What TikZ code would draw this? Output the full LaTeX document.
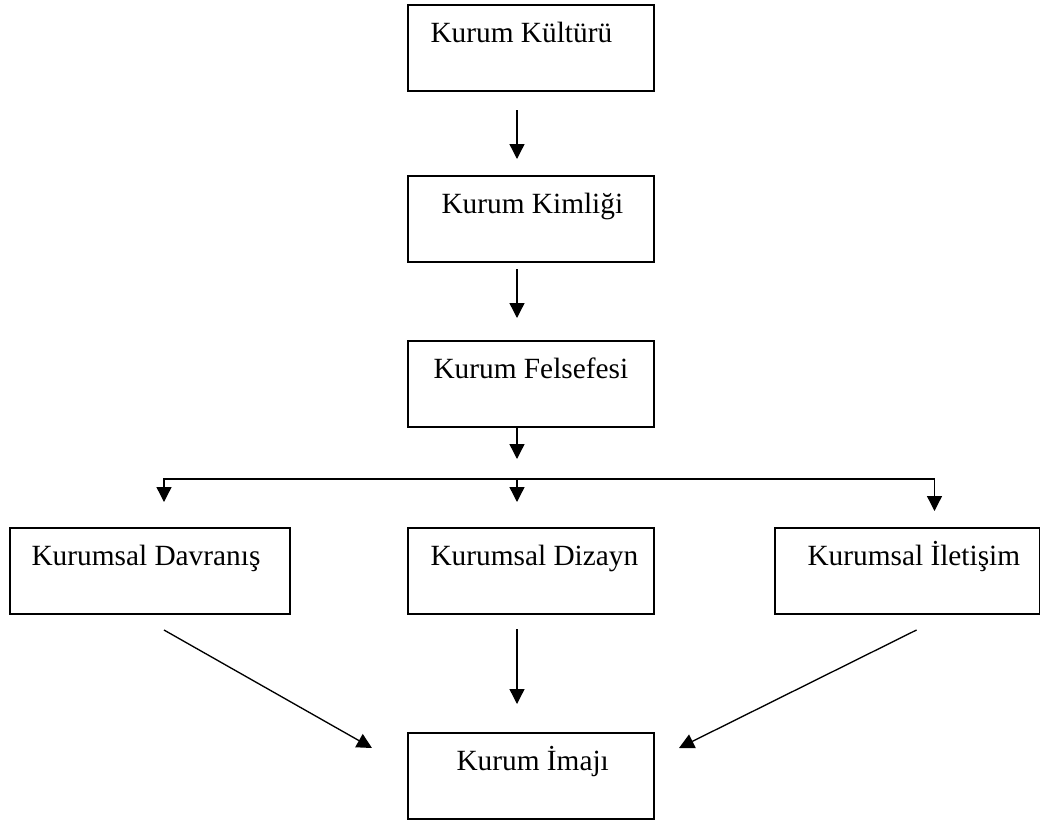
\documentclass[tikz,border=0pt]{standalone}
\usepackage{fontspec}
\setmainfont{Liberation Serif}
\usetikzlibrary{arrows.meta}

\tikzset{every picture/.style={line width=0.75pt}}
\tikzset{
  kutu/.style={draw, line width=1.5pt, inner sep=0pt, anchor=north west, minimum height=64.5pt},
  orta/.style={kutu, minimum width=184.5pt},
  yazi/.style={anchor=base west, inner sep=0pt, font=\fontsize{22}{26}\selectfont},
  ok/.style={-{Triangle[length=11.25pt,width=11.25pt]}, line width=1pt},
}

\begin{document}
\begin{tikzpicture}[x=0.75pt,y=0.75pt,yscale=-1,xscale=1]
\useasboundingbox (0,0) rectangle (1040,822);

%Shape: Rectangle
\node[orta] (kultur) at (407,4) {};
%Shape: Rectangle
\node[orta] (kimlik) at (407,175) {};
%Shape: Rectangle
\node[orta] (felsefe) at (407,340) {};
%Shape: Rectangle
\node[kutu, minimum width=210pt] (davranis) at (9,527) {};
%Shape: Rectangle
\node[orta] (dizayn) at (407,527) {};
%Shape: Rectangle
\node[kutu, minimum width=198.75pt] (iletisim) at (774,527) {};
%Shape: Rectangle
\node[orta] (imaj) at (407,732) {};

%Straight Lines
\draw[ok] ([xshift=-10.5pt,yshift=13.5pt]kultur.south) -- ([xshift=-10.5pt,yshift=-12pt]kimlik.north);
%Straight Lines
\draw[ok] ([xshift=-10.5pt,yshift=4.5pt]kimlik.south) -- ([xshift=-10.5pt,yshift=-16.5pt]felsefe.north);
%Straight Lines
\draw[ok] ([xshift=-10.5pt]felsefe.south) -- ([xshift=-10.5pt,yshift=23.25pt]felsefe.south);

%Branch
\coordinate (dal) at ([xshift=-10.5pt,yshift=38.25pt]felsefe.south);
\draw[ok] (dal) -| ([xshift=10.5pt,yshift=-18.75pt]davranis.north);
\draw[ok] (dal) -| ([xshift=20.25pt,yshift=-12pt]iletisim.north);
\draw[ok] (dal) -- ([xshift=-10.5pt,yshift=-18.75pt]dizayn.north);

%Straight Lines
\draw[ok] ([xshift=10.5pt,yshift=11.25pt]davranis.south) -- ([xshift=-26.25pt,yshift=12pt]imaj.north west);
%Straight Lines
\draw[ok] ([xshift=-10.5pt,yshift=10.5pt]dizayn.south) -- ([xshift=-10.5pt,yshift=-21pt]imaj.north);
%Straight Lines
\draw[ok] ([xshift=6.75pt,yshift=11.25pt]iletisim.south) -- ([xshift=18pt,yshift=12pt]imaj.north east);

% Text Node
\node[yazi] (kulturY) at (430,42) {Kurum Kültürü};
% Text Node
\node[yazi] (kimlikY) at (441,213) {Kurum Kimliği};
% Text Node
\node[yazi] (felsefeY) at (433,378) {Kurum Felsefesi};
% Text Node
\node[yazi] (davranisY) at (31,565) {Kurumsal Davranış};
% Text Node
\node[yazi] (dizaynY) at (430,565) {Kurumsal Dizayn};
% Text Node
\node[yazi] (iletisimY) at (807,565) {Kurumsal İletişim};
% Text Node
\node[yazi] (imajY) at (456,770) {Kurum İmajı};

\end{tikzpicture}
\end{document}
